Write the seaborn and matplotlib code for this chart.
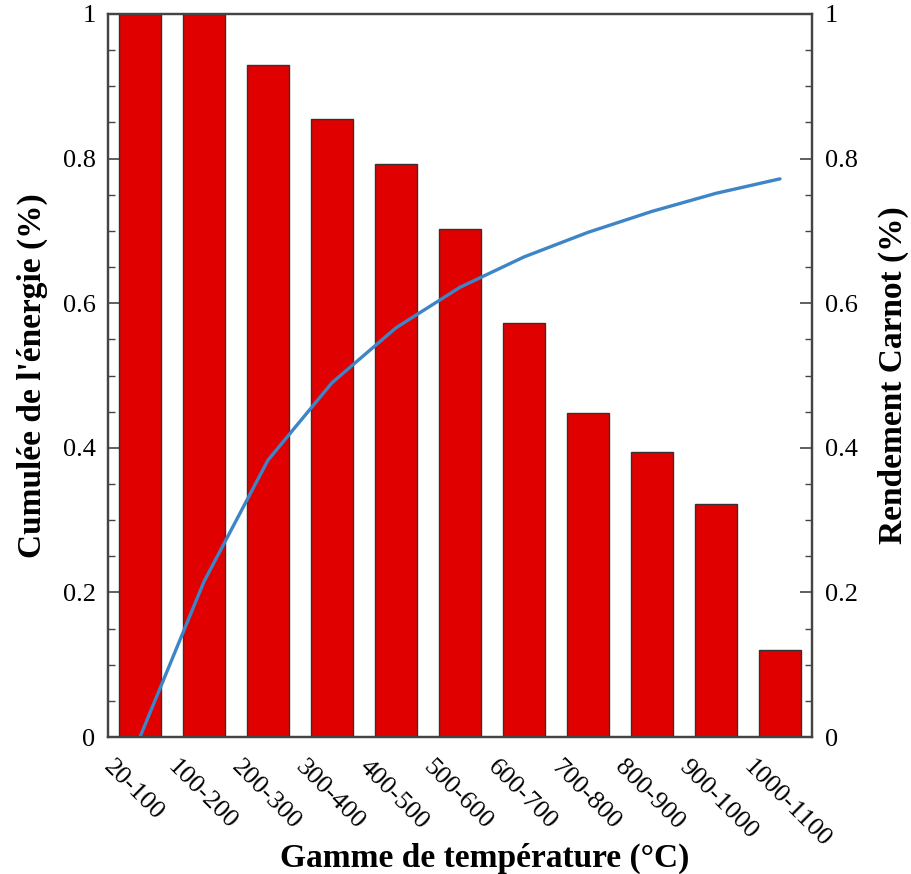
import numpy as np
import pandas as pd
import matplotlib
matplotlib.use("Agg")
import matplotlib.pyplot as plt
from matplotlib.ticker import AutoMinorLocator, FuncFormatter
import seaborn as sns

# temperature ranges (°C)
categories = [
    "20-100", "100-200", "200-300", "300-400", "400-500", "500-600",
    "600-700", "700-800", "800-900", "900-1000", "1000-1100",
]

# cumulated energy share (left axis)
energy = [1.0, 1.0, 0.93, 0.855, 0.793, 0.702, 0.573, 0.448, 0.394, 0.322, 0.12]

# Carnot efficiency (right axis)
carnot = [0.0, 0.215, 0.383, 0.49, 0.566, 0.622, 0.664, 0.698, 0.727, 0.752, 0.772]

sns.set_theme(style="white")
plt.rcParams["font.family"] = ["Liberation Serif", "DejaVu Serif"]
plt.rcParams["text.color"] = "black"
plt.rcParams["axes.labelcolor"] = "black"

df = pd.DataFrame({"range": categories, "energy": energy, "carnot": carnot})
df["pos"] = np.arange(len(df))

fig = plt.figure(figsize=(9.11, 8.74), dpi=100)
ax = fig.add_axes([108 / 911, 137 / 874, 704 / 911, 723 / 874])

sns.barplot(
    data=df, x="range", y="energy", color="#e00000", saturation=1,
    width=0.67, edgecolor="#333333", linewidth=1.0, ax=ax,
)

ax2 = ax.twinx()
sns.lineplot(data=df, x="pos", y="carnot", color="#3d85c6", linewidth=2.4, ax=ax2)

fmt = FuncFormatter(lambda v, p: f"{v:g}")
spine_col = "#444444"
for a in (ax, ax2):
    a.set_ylim(0, 1)
    a.set_yticks([0, 0.2, 0.4, 0.6, 0.8, 1.0])
    a.yaxis.set_major_formatter(fmt)
    a.yaxis.set_minor_locator(AutoMinorLocator(4))
    a.tick_params(axis="y", which="major", direction="in", length=9,
                  width=1.2, color=spine_col, labelcolor="black",
                  labelsize=19, pad=9)
    a.tick_params(axis="y", which="minor", direction="in", length=5,
                  width=1.0, color=spine_col)
    for s in a.spines.values():
        s.set_visible(True)
        s.set_color(spine_col)
        s.set_linewidth(1.6)
    a.grid(False)

ax.set_xlim(-0.5, len(categories) - 0.5)
ax.set_xticks(np.arange(len(categories)) - 0.4)
ax.set_xticklabels(categories, rotation=-45, ha="left", va="top",
                   rotation_mode="anchor", fontsize=19)
ax.tick_params(axis="x", length=0, pad=14, labelcolor="black")
ax2.tick_params(axis="x", length=0)
ax2.set_xlabel("")

ax.set_xlabel("Gamme de température (°C)", fontsize=24, fontweight="bold")
ax.xaxis.set_label_coords(0.5355, -0.146)
ax.set_ylabel("Cumulée de l'énergie (%)", fontsize=24, fontweight="bold")
ax.yaxis.set_label_coords(-0.085, 0.5)
ax2.set_ylabel("Rendement Carnot (%)", fontsize=24, fontweight="bold")
ax2.yaxis.set_label_coords(1.094, 0.5)

fig.savefig("out.png", dpi=100)
